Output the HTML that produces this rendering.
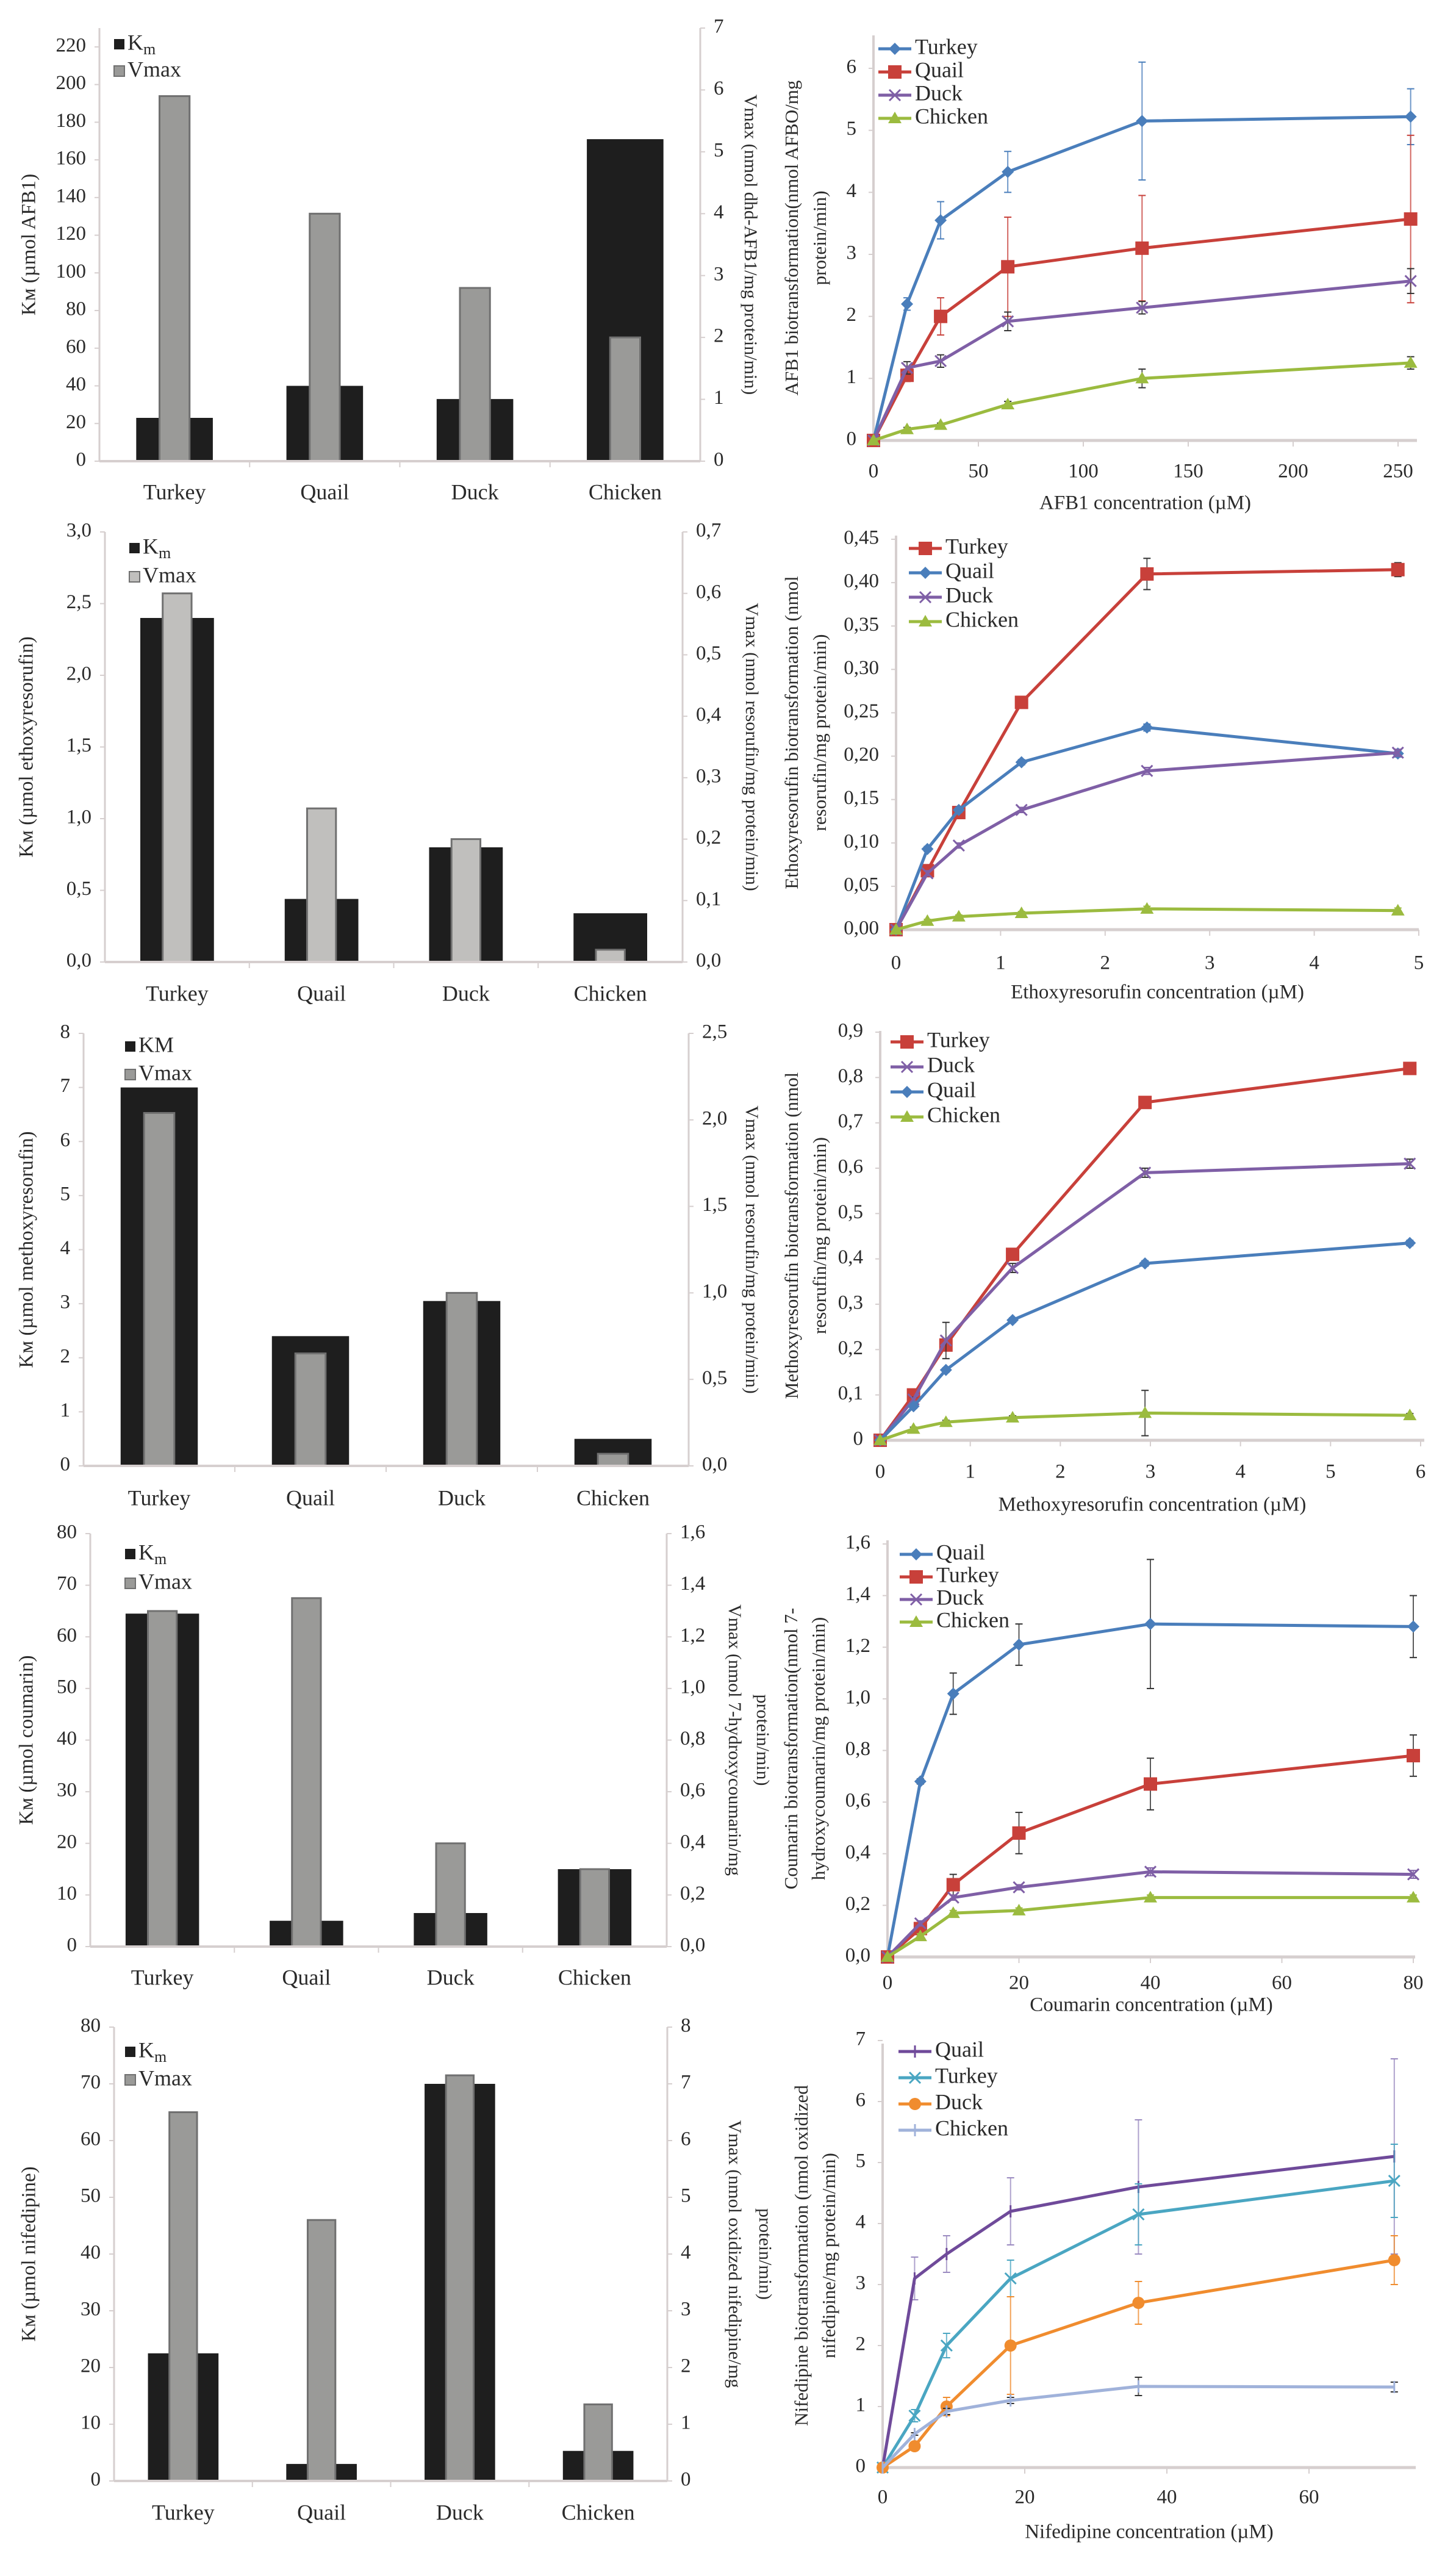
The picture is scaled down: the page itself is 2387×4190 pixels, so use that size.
<!DOCTYPE html>
<html><head><meta charset="utf-8"><style>
html,body{margin:0;padding:0;background:#fff;}
svg{display:block;}
text{font-family:"Liberation Serif","DejaVu Serif",serif;fill:#2a2a2a;}
</style></head><body>
<svg id="fig" xmlns="http://www.w3.org/2000/svg" width="2387" height="4190" viewBox="0 0 2387 4190"></svg>
<script>
// ---------- DATA ----------
const species=['Turkey','Quail','Duck','Chicken'];
const afbKm=[23,40,33,171];
const afbVmax=[5.9,4.0,2.8,2.0];
const erKm=[2.4,0.44,0.8,0.34];
const erVmax=[0.6,0.25,0.2,0.02];
const mrKm=[7.0,2.4,3.05,0.5];
const mrVmax=[2.04,0.65,1.0,0.07];
const coKm=[64.5,5,6.5,15];
const coVmax=[1.3,1.35,0.4,0.3];
const niKm=[22.5,3,70,5.3];
const niVmax=[6.5,4.6,7.15,1.35];

const afbKmTicks=[0,20,40,60,80,100,120,140,160,180,200,220];
const afbVmaxTicks=[0,1,2,3,4,5,6,7];
const erKmTicks=['0,0','0,5','1,0','1,5','2,0','2,5','3,0'];
const erVmaxTicks=['0,0','0,1','0,2','0,3','0,4','0,5','0,6','0,7'];
const mrKmTicks=['0','1','2','3','4','5','6','7','8'];
const mrVmaxTicks=['0,0','0,5','1,0','1,5','2,0','2,5'];
const coKmTicks=['0','10','20','30','40','50','60','70','80'];
const coVmaxTicks=['0,0','0,2','0,4','0,6','0,8','1,0','1,2','1,4','1,6'];
const niKmTicks=['0','10','20','30','40','50','60','70','80'];
const niVmaxTicks=['0','1','2','3','4','5','6','7','8'];

const afbConc=[0,16,32,64,128,256];
const afbTurkey=[0,2.2,3.55,4.33,5.15,5.22];
const afbTurkeyErr=[0,0.1,0.3,0.33,0.95,0.45];
const afbQuail=[0,1.05,2.0,2.8,3.1,3.57];
const afbQuailErr=[0,0.1,0.3,0.8,0.85,1.35];
const afbDuck=[0,1.17,1.28,1.92,2.14,2.57];
const afbDuckErr=[0,0.1,0.1,0.15,0.1,0.2];
const afbChicken=[0,0.18,0.25,0.58,1.0,1.25];
const afbChickenErr=[0,0.03,0.03,0.05,0.15,0.1];
const afbXTicks=['0','50','100','150','200','250'];
const afbYTicks=['0','1','2','3','4','5','6'];

const erConc=[0,0.3,0.6,1.2,2.4,4.8];
const erTurkey=[0,0.068,0.135,0.262,0.41,0.415];
const erTurkeyErr=[0,0.004,0.004,0.005,0.018,0.008];
const erQuail=[0,0.093,0.138,0.193,0.233,0.203];
const erQuailErr=[0,0.003,0.003,0.003,0.004,0.004];
const erDuck=[0,0.065,0.097,0.138,0.183,0.204];
const erDuckErr=[0,0.003,0.003,0.003,0.004,0.004];
const erChicken=[0,0.01,0.015,0.019,0.024,0.022];
const erChickenErr=[0,0.002,0.002,0.002,0.003,0.003];
const erXTicks=['0','1','2','3','4','5'];
const erYTicks=['0,00','0,05','0,10','0,15','0,20','0,25','0,30','0,35','0,40','0,45'];

const mrConc=[0,0.37,0.73,1.47,2.94,5.88];
const mrTurkey=[0,0.1,0.21,0.41,0.745,0.82];
const mrTurkeyErr=[0,0.005,0.01,0.01,0.008,0.01];
const mrDuck=[0,0.09,0.22,0.38,0.59,0.61];
const mrDuckErr=[0,0.005,0.04,0.01,0.01,0.01];
const mrQuail=[0,0.075,0.155,0.265,0.39,0.435];
const mrQuailErr=[0,0.005,0.005,0.005,0.006,0.006];
const mrChicken=[0,0.025,0.04,0.05,0.06,0.055];
const mrChickenErr=[0,0.004,0.004,0.004,0.05,0.004];
const mrXTicks=['0','1','2','3','4','5','6'];
const mrYTicks=['0','0,1','0,2','0,3','0,4','0,5','0,6','0,7','0,8','0,9'];

const coConc=[0,5,10,20,40,80];
const coQuail=[0,0.68,1.02,1.21,1.29,1.28];
const coQuailErr=[0,0.01,0.08,0.08,0.25,0.12];
const coTurkey=[0,0.11,0.28,0.48,0.67,0.78];
const coTurkeyErr=[0,0.01,0.04,0.08,0.1,0.08];
const coDuck=[0,0.13,0.23,0.27,0.33,0.32];
const coDuckErr=[0,0.01,0.01,0.01,0.015,0.015];
const coChicken=[0,0.08,0.17,0.18,0.23,0.23];
const coChickenErr=[0,0.01,0.01,0.01,0.01,0.01];
const coXTicks=['0','20','40','60','80'];
const coYTicks=['0,0','0,2','0,4','0,6','0,8','1,0','1,2','1,4','1,6'];

const niConc=[0,4.5,9,18,36,72];
const niQuail=[0,3.1,3.5,4.2,4.6,5.1];
const niQuailErr=[0,0.35,0.3,0.55,1.1,1.6];
const niTurkey=[0,0.85,2.0,3.1,4.15,4.7];
const niTurkeyErr=[0,0.1,0.2,0.3,0.5,0.6];
const niDuck=[0,0.35,1.0,2.0,2.7,3.4];
const niDuckErr=[0,0.05,0.15,0.8,0.35,0.4];
const niChicken=[0,0.55,0.92,1.1,1.33,1.32];
const niChickenErr=[0,0.02,0.05,0.05,0.15,0.08];
const niXTicks=['0','20','40','60'];
const niYTicks=['0','1','2','3','4','5','6','7'];

// ---------- HELPERS ----------
const NS='http://www.w3.org/2000/svg';
const svg=document.getElementById('fig');
function mk(tag,attrs,parent){const e=document.createElementNS(NS,tag);for(const k in attrs)e.setAttribute(k,attrs[k]);(parent||svg).appendChild(e);return e;}
function txt(s,x,y,size,anchor,parent,rot){
  const t=mk('text',{x:x,y:y,'font-size':size,'text-anchor':anchor||'middle','dominant-baseline':'middle'},parent);
  if(rot)t.setAttribute('transform','rotate('+rot+' '+x+' '+y+')');
  t.textContent=s;return t;}
function num(s){return parseFloat(String(s).replace(',','.'));}

function barChart(id,L,km,vmax,leftTicks,rightTicks,leftMax,rightMax,leftTitle,rightTitle,kmLabel,vColor){
  const g=mk('g',{});
  
  
  const yL=v=>L.y0-(v/leftMax)*(L.y0-L.top);
  const yR=v=>L.y0-(v/rightMax)*(L.y0-L.top);
  const cw=(L.xr-L.xl)/species.length;
  // axes
  const ax=mk('line',{x1:L.xl,y1:L.top,x2:L.xl,y2:L.y0,stroke:'#d6cfcf','stroke-width':3},g);
  
  
  const ax2=mk('line',{x1:L.xr,y1:L.top,x2:L.xr,y2:L.y0,stroke:'#d6cfcf','stroke-width':3},g);
  
  
  leftTicks.forEach(t=>{const y=yL(num(t));mk('line',{x1:L.xl-8,y1:y,x2:L.xl,y2:y,stroke:'#d6cfcf','stroke-width':2},g);
    const tl=txt(String(t),L.xl-22,y,33,'end',g);
    
    });
  rightTicks.forEach(t=>{const y=yR(num(t));mk('line',{x1:L.xr,y1:y,x2:L.xr+8,y2:y,stroke:'#d6cfcf','stroke-width':2},g);
    const tr=txt(String(t),L.xr+22,y,33,'start',g);
    
    });
  // bars
  species.forEach((s,i)=>{
    const cx=L.xl+cw*(i+0.5);
    const kw=cw*0.51, vw=cw*0.2;
    const b=mk('rect',{x:cx-kw/2,y:yL(km[i]),width:kw,height:L.y0-yL(km[i]),fill:'#1e1e1e'},g);
    
    
    const v=mk('rect',{x:cx-vw/2,y:yR(vmax[i]),width:vw,height:L.y0-yR(vmax[i]),fill:vColor,stroke:'#707070','stroke-width':3},g);
    
    
    const cl=txt(s,cx,L.catY,36,'middle',g);
    
    
    if(i>0)mk('line',{x1:L.xl+cw*i,y1:L.y0,x2:L.xl+cw*i,y2:L.y0+10,stroke:'#d6cfcf','stroke-width':2},g);
  });
  const xa=mk('line',{x1:L.xl,y1:L.y0,x2:L.xr,y2:L.y0,stroke:'#d6cfcf','stroke-width':4},g);
  
  
  // titles
  const lt=txt(leftTitle,L.ltX,(L.top+L.y0)/2,33,'middle',g,-90);
  
  
  rightTitle.forEach((line,k)=>{
    const rt=txt(line,L.rtX[k],(L.top+L.y0)/2,30,'middle',g,90);
    
    });
  // legend
  const lg=mk('g',{},g);
  
  
  mk('rect',{x:L.lgX,y:L.lgY-9,width:17,height:17,fill:'#1e1e1e'},lg);
  const k1=mk('text',{x:L.lgX+22,y:L.lgY,'font-size':36,'dominant-baseline':'middle'},lg);
  if(kmLabel==='KM'){k1.textContent='KM';}
  else{k1.textContent='K';const ts=mk('tspan',{'font-size':26,dy:10},k1);ts.textContent='m';}
  mk('rect',{x:L.lgX,y:L.lgY+L.lgGap-9,width:17,height:17,fill:vColor,stroke:'#707070','stroke-width':2},lg);
  const k2=txt('Vmax',L.lgX+22,L.lgY+L.lgGap,36,'start',lg);
}

function marker(g,type,x,y,c){
  if(type==='diamond')mk('polygon',{points:(x)+','+(y-10)+' '+(x+10)+','+y+' '+x+','+(y+10)+' '+(x-10)+','+y,fill:c},g);
  else if(type==='square')mk('rect',{x:x-11,y:y-11,width:22,height:22,fill:c},g);
  else if(type==='triangle')mk('polygon',{points:x+','+(y-11)+' '+(x+11)+','+(y+8)+' '+(x-11)+','+(y+8),fill:c},g);
  else if(type==='circle')mk('circle',{cx:x,cy:y,r:10,fill:c},g);
  else if(type==='cross'){mk('line',{x1:x-9,y1:y-9,x2:x+9,y2:y+9,stroke:c,'stroke-width':3},g);mk('line',{x1:x+9,y1:y-9,x2:x-9,y2:y+9,stroke:c,'stroke-width':3},g);}
  else if(type==='star'){mk('line',{x1:x,y1:y-11,x2:x,y2:y+11,stroke:c,'stroke-width':3},g);mk('line',{x1:x-9,y1:y-9,x2:x+9,y2:y+9,stroke:c,'stroke-width':2},g);mk('line',{x1:x+9,y1:y-9,x2:x-9,y2:y+9,stroke:c,'stroke-width':2},g);}
  else if(type==='dash'){mk('line',{x1:x,y1:y-10,x2:x,y2:y+10,stroke:c,'stroke-width':3},g);}
}

function lineChart(id,L,xs,series,xTicks,yTicks,xMax,yMax,xTitle,yTitle){
  const g=mk('g',{});
  
  
  const X=v=>L.x0+(v/xMax)*(L.x1-L.x0);
  const Y=v=>L.y0-(v/yMax)*(L.y0-L.y1);
  const ya=mk('line',{x1:L.x0,y1:L.top,x2:L.x0,y2:L.y0,stroke:'#d6cfcf','stroke-width':4},g);
  
  
  const xa=mk('line',{x1:L.x0,y1:L.y0,x2:L.xEnd,y2:L.y0,stroke:'#d6cfcf','stroke-width':5},g);
  
  
  yTicks.forEach(t=>{const y=Y(num(t));mk('line',{x1:L.x0-8,y1:y,x2:L.x0,y2:y,stroke:'#d6cfcf','stroke-width':2},g);
    const tl=txt(t,L.x0-28,y,33,'end',g);
    
    });
  xTicks.forEach(t=>{const x=X(num(t));mk('line',{x1:x,y1:L.y0,x2:x,y2:L.y0+10,stroke:'#d6cfcf','stroke-width':2},g);
    const tl=txt(t,x,L.xtY,33,'middle',g);
    
    });
  const xt=txt(xTitle,(L.x0+L.xEnd)/2,L.xTitleY,33,'middle',g);
  
  
  yTitle.forEach((line,k)=>{
    const t=txt(line,L.ytX[k],(L.top+L.y0)/2,31,'middle',g,-90);
    
    });
  series.forEach((s,si)=>{
    const sg=mk('g',{},g);
    
    
    s.err.forEach((e,i)=>{if(e>0){const x=X(xs[i]);
      mk('line',{x1:x,y1:Y(s.vals[i]+e),x2:x,y2:Y(s.vals[i]-e),stroke:s.ec||s.color,'stroke-width':2,opacity:0.8},sg);
      mk('line',{x1:x-6,y1:Y(s.vals[i]+e),x2:x+6,y2:Y(s.vals[i]+e),stroke:s.ec||s.color,'stroke-width':2},sg);
      mk('line',{x1:x-6,y1:Y(s.vals[i]-e),x2:x+6,y2:Y(s.vals[i]-e),stroke:s.ec||s.color,'stroke-width':2},sg);}});
    const pts=xs.map((x,i)=>X(x)+','+Y(s.vals[i])).join(' ');
    const pl=mk('polyline',{points:pts,fill:'none',stroke:s.color,'stroke-width':5,'stroke-linejoin':'round'},sg);
    
    
    xs.forEach((x,i)=>marker(sg,s.marker,X(x),Y(s.vals[i]),s.color));
    // legend entry
    const ly=L.lgY+si*L.lgGap;
    const le=mk('g',{},g);
    
    
    mk('line',{x1:L.lgX,y1:ly,x2:L.lgX+54,y2:ly,stroke:s.color,'stroke-width':5},le);
    marker(le,s.marker,L.lgX+27,ly,s.color);
    txt(s.name,L.lgX+60,ly,36,'start',le);
  });
}

const BLUE='#4a7ebb',RED='#c8403a',PURP='#7f5fa6',GREEN='#9bbb3f';

// ---------- ROW 1 ----------
barChart('afb1',{xl:163,xr:1148,y0:756,top:46,catY:810,ltX:50,rtX:[1228],lgX:187,lgY:73,lgGap:44},
  afbKm,afbVmax,afbKmTicks,afbVmaxTicks,230,7,'Kм (µmol AFB1)',['Vmax (nmol dhd-AFB1/mg protein/min)'],'Km','#9a9a98');
lineChart('afb1',{x0:1432,x1:2292,xEnd:2323,y0:722,y1:112,top:58,xtY:775,xTitleY:827,ytX:[1301,1347],lgX:1440,lgY:80,lgGap:38},
  afbConc,[{name:'Turkey',vals:afbTurkey,err:afbTurkeyErr,color:BLUE,marker:'diamond'},
   {name:'Quail',vals:afbQuail,err:afbQuailErr,color:RED,marker:'square'},
   {name:'Duck',vals:afbDuck,err:afbDuckErr,color:PURP,marker:'cross',ec:'#333'},
   {name:'Chicken',vals:afbChicken,err:afbChickenErr,color:GREEN,marker:'triangle',ec:'#333'}],
  afbXTicks,afbYTicks,250,6,'AFB1 concentration (µM)',['AFB1 biotransformation(nmol AFBO/mg','protein/min)']);

// ---------- ROW 2 ----------
barChart('ethoxyresorufin',{xl:172,xr:1119,y0:1577,top:872,catY:1632,ltX:46,rtX:[1230],lgX:212,lgY:899,lgGap:47},
  erKm,erVmax,erKmTicks,erVmaxTicks,3.0,0.7,'Kм (µmol ethoxyresorufin)',['Vmax (nmol resorufin/mg protein/min)'],'Km','#c0bfbd');
lineChart('ethoxyresorufin',{x0:1469,x1:2326,xEnd:2326,y0:1524,y1:884,top:878,xtY:1581,xTitleY:1629,ytX:[1301,1347],lgX:1490,lgY:899,lgGap:40},
  erConc,[{name:'Turkey',vals:erTurkey,err:erTurkeyErr,color:RED,marker:'square',ec:'#333'},
   {name:'Quail',vals:erQuail,err:erQuailErr,color:BLUE,marker:'diamond'},
   {name:'Duck',vals:erDuck,err:erDuckErr,color:PURP,marker:'cross'},
   {name:'Chicken',vals:erChicken,err:erChickenErr,color:GREEN,marker:'triangle'}],
  erXTicks,erYTicks,5,0.45,'Ethoxyresorufin concentration (µM)',['Ethoxyresorufin biotransformation (nmol','resorufin/mg protein/min)']);

// ---------- ROW 3 ----------
barChart('methoxyresorufin',{xl:137,xr:1129,y0:2403,top:1694,catY:2459,ltX:46,rtX:[1230],lgX:205,lgY:1716,lgGap:46},
  mrKm,mrVmax,mrKmTicks,mrVmaxTicks,8,2.5,'Kм (µmol methoxyresorufin)',['Vmax (nmol resorufin/mg protein/min)'],'KM','#9a9a98');
lineChart('methoxyresorufin',{x0:1443,x1:2329,xEnd:2335,y0:2361,y1:1692,top:1690,xtY:2415,xTitleY:2469,ytX:[1301,1347],lgX:1460,lgY:1708,lgGap:41},
  mrConc,[{name:'Turkey',vals:mrTurkey,err:mrTurkeyErr,color:RED,marker:'square'},
   {name:'Duck',vals:mrDuck,err:mrDuckErr,color:PURP,marker:'cross',ec:'#333'},
   {name:'Quail',vals:mrQuail,err:mrQuailErr,color:BLUE,marker:'diamond'},
   {name:'Chicken',vals:mrChicken,err:mrChickenErr,color:GREEN,marker:'triangle',ec:'#333'}],
  mrXTicks,mrYTicks,6,0.9,'Methoxyresorufin concentration (µM)',['Methoxyresorufin biotransformation (nmol','resorufin/mg protein/min)']);

// ---------- ROW 4 ----------
barChart('coumarin',{xl:148,xr:1093,y0:3191,top:2514,catY:3245,ltX:46,rtX:[1202,1248],lgX:205,lgY:2548,lgGap:48},
  coKm,coVmax,coKmTicks,coVmaxTicks,80,1.6,'Kм (µmol coumarin)',['Vmax (nmol 7-hydroxycoumarin/mg','protein/min)'],'Km','#9a9a98');
lineChart('coumarin',{x0:1455,x1:2317,xEnd:2320,y0:3208,y1:2531,top:2525,xtY:3253,xTitleY:3289,ytX:[1300,1345],lgX:1475,lgY:2548,lgGap:37},
  coConc,[{name:'Quail',vals:coQuail,err:coQuailErr,color:BLUE,marker:'diamond',ec:'#333'},
   {name:'Turkey',vals:coTurkey,err:coTurkeyErr,color:RED,marker:'square',ec:'#333'},
   {name:'Duck',vals:coDuck,err:coDuckErr,color:PURP,marker:'cross'},
   {name:'Chicken',vals:coChicken,err:coChickenErr,color:GREEN,marker:'triangle'}],
  coXTicks,coYTicks,80,1.6,'Coumarin concentration (µM)',['Coumarin biotransformation(nmol 7-','hydroxycoumarin/mg protein/min)']);

// ---------- ROW 5 ----------
barChart('nifedipine',{xl:187,xr:1094,y0:4067,top:3323,catY:4122,ltX:50,rtX:[1202,1252],lgX:205,lgY:3364,lgGap:46},
  niKm,niVmax,niKmTicks,niVmaxTicks,80,8,'Kм (µmol nifedipine)',['Vmax (nmol oxidized nifedipine/mg','protein/min)'],'Km','#9a9a98');
lineChart('nifedipine',{x0:1447,x1:2146,xEnd:2321,y0:4045,y1:3345,top:3350,xtY:4096,xTitleY:4153,ytX:[1317,1362],lgX:1473,lgY:3363,lgGap:43},
  niConc,[{name:'Quail',vals:niQuail,err:niQuailErr,color:'#6f4a9a',marker:'dash',ec:'#9a8ac0'},
   {name:'Turkey',vals:niTurkey,err:niTurkeyErr,color:'#4aa6c2',marker:'cross'},
   {name:'Duck',vals:niDuck,err:niDuckErr,color:'#f08c2e',marker:'circle'},
   {name:'Chicken',vals:niChicken,err:niChickenErr,color:'#a0b2da',marker:'dash',ec:'#333'}],
  niXTicks,niYTicks,60,7,'Nifedipine concentration (µM)',['Nifedipine biotransformation (nmol oxidized','nifedipine/mg protein/min)']);
</script>
</body></html>
